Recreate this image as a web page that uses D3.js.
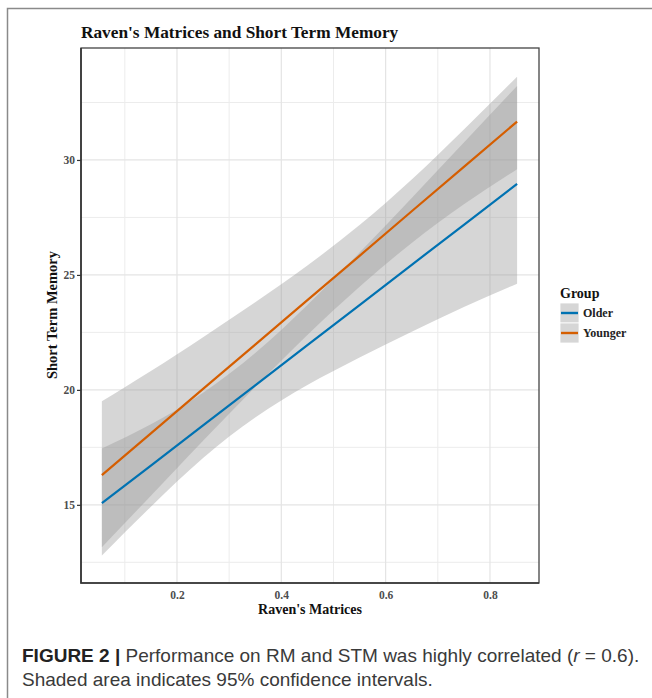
<!DOCTYPE html>
<html>
<head>
<meta charset="utf-8">
<script src="https://cdn.jsdelivr.net/npm/d3@7"></script>
<style>
  body { margin: 0; background: #fff; }
  svg { display: block; }
</style>
</head>
<body>
<svg id="fig" width="652" height="698"></svg>
<script>
// values
const groups = ["Older", "Younger"];
const groupColors = ["#0072B2", "#D55E00"];
const xSample = [0.056, 0.15, 0.25, 0.35, 0.45, 0.55, 0.65, 0.75, 0.852];
const olderFit = [15.07, 16.71, 18.46, 20.20, 21.95, 23.69, 25.44, 27.18, 28.96];
const olderLow = [12.80, 14.92, 17.04, 18.80, 20.21, 21.41, 22.53, 23.60, 24.62];
const olderHigh = [17.45, 18.50, 19.88, 21.60, 23.69, 25.97, 28.35, 30.76, 33.22];
const youngerFit = [16.29, 18.11, 20.04, 21.97, 23.90, 25.83, 27.77, 29.70, 31.67];
const youngerLow = [13.16, 15.40, 17.79, 20.13, 22.39, 24.49, 26.39, 28.07, 29.60];
const youngerHigh = [19.50, 20.82, 22.29, 23.81, 25.41, 27.17, 29.15, 31.33, 33.62];
const xTicks = [0.2, 0.4, 0.6, 0.8];
const xMinor = [0.1, 0.3, 0.5, 0.7];
const yTicks = [15, 20, 25, 30];
const yMinor = [12.5, 17.5, 22.5, 27.5, 32.5];

window.addEventListener("load", main);

function main() {
  const svg = d3.select("#fig");
  const serif = "'Liberation Serif', 'Times New Roman', serif";
  const panel = { left: 81, top: 48, right: 539, bottom: 583 };

  // figure frame
  svg.append("path")
    .attr("d", "M7.5,698 V8.5 H652")
    .attr("fill", "none")
    .attr("stroke", "#8a8a8a")
    .attr("stroke-width", 1.5);

  const x = d3.scaleLinear().domain([0.016, 0.894]).range([panel.left, panel.right]);
  const y = d3.scaleLinear().domain([11.6, 34.87]).range([panel.bottom, panel.top]);

  // grid
  const grid = svg.append("g");
  grid.selectAll("line.xminor").data(xMinor).enter().append("line")
    .attr("x1", d => x(d)).attr("x2", d => x(d))
    .attr("y1", panel.top).attr("y2", panel.bottom)
    .attr("stroke", "#ececec").attr("stroke-width", 1);
  grid.selectAll("line.yminor").data(yMinor).enter().append("line")
    .attr("y1", d => y(d)).attr("y2", d => y(d))
    .attr("x1", panel.left).attr("x2", panel.right)
    .attr("stroke", "#ececec").attr("stroke-width", 1);
  grid.selectAll("line.xmajor").data(xTicks).enter().append("line")
    .attr("x1", d => x(d)).attr("x2", d => x(d))
    .attr("y1", panel.top).attr("y2", panel.bottom)
    .attr("stroke", "#e4e4e4").attr("stroke-width", 1.2);
  grid.selectAll("line.ymajor").data(yTicks).enter().append("line")
    .attr("y1", d => y(d)).attr("y2", d => y(d))
    .attr("x1", panel.left).attr("x2", panel.right)
    .attr("stroke", "#e4e4e4").attr("stroke-width", 1.2);

  // confidence bands
  const bands = [
    xSample.map((v, i) => ({ x: v, lo: olderLow[i], hi: olderHigh[i] })),
    xSample.map((v, i) => ({ x: v, lo: youngerLow[i], hi: youngerHigh[i] }))
  ];
  const area = d3.area()
    .x(d => x(d.x)).y0(d => y(d.lo)).y1(d => y(d.hi))
    .curve(d3.curveNatural);
  svg.append("g").selectAll("path").data(bands).enter().append("path")
    .attr("d", area)
    .attr("fill", "#999999")
    .attr("fill-opacity", 0.4);

  // fitted lines
  const fits = [olderFit, youngerFit];
  const line = d3.line().x(d => x(d.x)).y(d => y(d.y));
  svg.append("g").selectAll("path").data(fits).enter().append("path")
    .attr("d", f => line(xSample.map((v, i) => ({ x: v, y: f[i] }))))
    .attr("fill", "none")
    .attr("stroke", (d, i) => groupColors[i])
    .attr("stroke-width", 2.2);

  // panel border
  svg.append("rect")
    .attr("x", panel.left).attr("y", panel.top)
    .attr("width", panel.right - panel.left).attr("height", panel.bottom - panel.top)
    .attr("fill", "none").attr("stroke", "#444").attr("stroke-width", 1.3);
  svg.append("path")
    .attr("d", `M${panel.left},${panel.top} V${panel.bottom} H${panel.right}`)
    .attr("fill", "none").attr("stroke", "#333").attr("stroke-width", 1.6);

  // axes
  const yAxis = svg.append("g")
    .attr("transform", `translate(${panel.left},0)`)
    .call(d3.axisLeft(y).tickValues(yTicks).tickSize(4).tickPadding(2));
  const xAxis = svg.append("g")
    .attr("transform", `translate(0,${panel.bottom})`)
    .call(d3.axisBottom(x).tickValues(xTicks).tickSize(0).tickPadding(8).tickFormat(d3.format(".1f")));
  [xAxis, yAxis].forEach(a => {
    a.select(".domain").remove();
    a.selectAll("text")
      .attr("font-family", serif).attr("font-size", 11.5)
      .attr("font-weight", "bold").attr("fill", "#4d4d4d");
    a.selectAll("line").attr("stroke", "#333").attr("stroke-width", 1.2);
  });

  // titles
  svg.append("text")
    .attr("x", panel.left).attr("y", 38)
    .attr("font-family", serif).attr("font-size", 17.3).attr("font-weight", "bold")
    .attr("fill", "#111")
    .text("Raven's Matrices and Short Term Memory");
  svg.append("text")
    .attr("x", (panel.left + panel.right) / 2).attr("y", 614)
    .attr("text-anchor", "middle")
    .attr("font-family", serif).attr("font-size", 14).attr("font-weight", "bold")
    .attr("fill", "#111")
    .text("Raven's Matrices");
  svg.append("text")
    .attr("transform", "translate(57,315) rotate(-90)")
    .attr("text-anchor", "middle")
    .attr("font-family", serif).attr("font-size", 14.5).attr("font-weight", "bold")
    .attr("fill", "#111")
    .text("Short Term Memory");

  // legend
  const legend = svg.append("g").attr("transform", "translate(560,287)");
  legend.append("text")
    .attr("x", 0).attr("y", 11)
    .attr("font-family", serif).attr("font-size", 14).attr("font-weight", "bold")
    .attr("fill", "#111")
    .text("Group");
  const keys = legend.selectAll("g.key").data(groups).enter().append("g")
    .attr("transform", (d, i) => `translate(0,${16 + i * 20})`);
  keys.append("rect")
    .attr("width", 19).attr("height", 20)
    .attr("fill", "#999999").attr("fill-opacity", 0.4)
    .attr("stroke", "#fff").attr("stroke-width", 0.8);
  keys.append("line")
    .attr("x1", 1).attr("x2", 18).attr("y1", 10).attr("y2", 10)
    .attr("stroke", (d, i) => groupColors[i]).attr("stroke-width", 2.4);
  keys.append("text")
    .attr("x", 23).attr("y", 14)
    .attr("font-family", serif).attr("font-size", 12).attr("font-weight", "bold")
    .attr("fill", "#222")
    .text(d => d);

  // caption
  const sans = "'Liberation Sans', Arial, sans-serif";
  const cap1 = svg.append("text")
    .attr("x", 22).attr("y", 662)
    .attr("font-family", sans).attr("font-size", 19).attr("fill", "#3a3a3a");
  cap1.append("tspan").attr("font-weight", "bold").attr("fill", "#222").text("FIGURE 2 | ");
  cap1.append("tspan").text("Performance on RM and STM was highly correlated (");
  cap1.append("tspan").attr("font-style", "italic").text("r");
  cap1.append("tspan").text(" = 0.6).");
  svg.append("text")
    .attr("x", 22).attr("y", 686)
    .attr("font-family", sans).attr("font-size", 19).attr("fill", "#3a3a3a")
    .text("Shaded area indicates 95% confidence intervals.");
}
</script>
</body>
</html>
